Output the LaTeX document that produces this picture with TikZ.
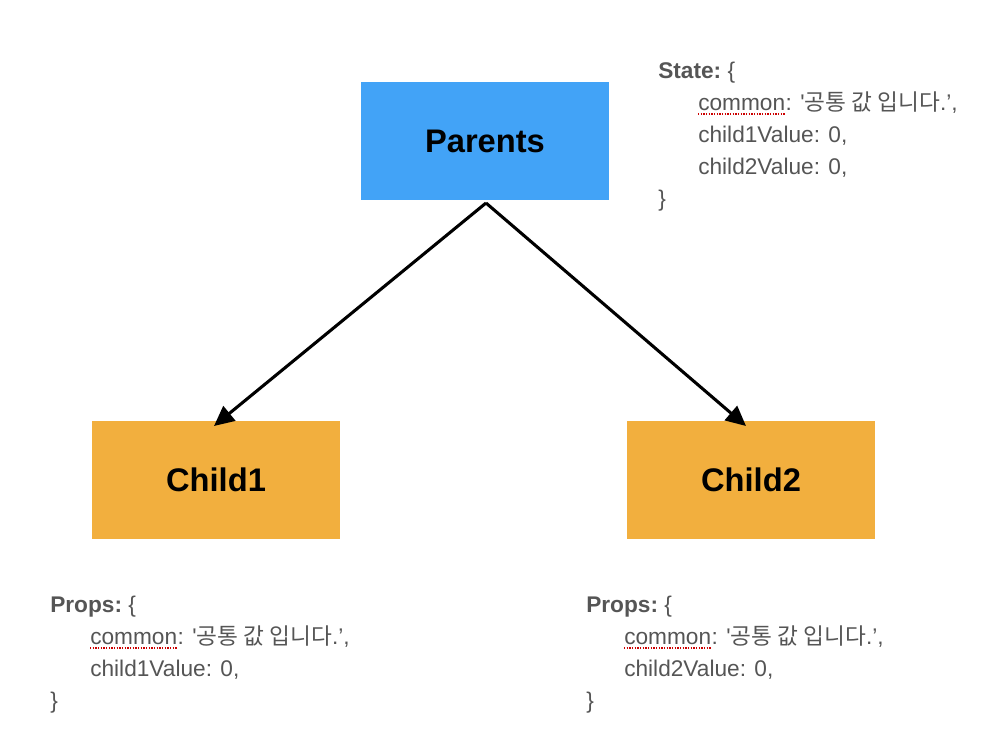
\documentclass[tikz,border=0pt]{standalone}
\usepackage{fontspec}
\newfontfamily\lib{Liberation Sans}
\newfontfamily\kr{Noto Sans CJK KR}
\usetikzlibrary{arrows.meta}
\definecolor{pblue}{HTML}{42A3F7}
\definecolor{corange}{HTML}{F2AF3E}
\definecolor{tgray}{HTML}{555555}
\begin{document}
\begin{tikzpicture}[x=0.75pt,y=-0.75pt,
  box/.style={minimum width=186pt,minimum height=88.5pt,inner sep=0pt,font=\lib\bfseries\fontsize{24.5}{28}\selectfont,text=black},
  code/.style={anchor=base west,inner sep=0pt,text=tgray,font=\lib\fontsize{17}{20}\selectfont},
  arr/.style={line width=2.3pt,black,-{Triangle[length=15pt,width=14pt]}},
  squig/.style={red!80!black,densely dotted,line width=1pt}]
\useasboundingbox (0,0) rectangle (1006,732);
% boxes
\node[box,fill=pblue] (par) at (485,141) {Parents};
\node[box,fill=corange] (c1) at (216,480) {Child1};
\node[box,fill=corange] (c2) at (751,480) {Child2};
\coordinate (top) at (486,203);
\coordinate (e1) at (214,426);
\coordinate (e2) at (746,426);
\draw[arr] (top) -- (e1);
\draw[arr] (top) -- (e2);
% State text
\node[code] (s1) at (658,78) {\bfseries State:\mdseries\ \{};
\node[code] (s2) at (698,110) {common};
\node[code] (s2b) at (s2.base east) {: '{\kr 공통 값 입니다}.’,};
\draw[squig] ([yshift=-3pt]s2.base west) -- ([yshift=-3pt]s2.base east);
\node[code] (s3) at (698,142) {child1Value: 0,};
\node[code] (s4) at (698,174) {child2Value: 0,};
\node[code] (s5) at (658,206) {\}};
% Props left
\node[code] (a1) at (50,612) {\bfseries Props:\mdseries\ \{};
\node[code] (a2) at (90,644) {common};
\node[code] (a2b) at (a2.base east) {: '{\kr 공통 값 입니다}.’,};
\draw[squig] ([yshift=-3pt]a2.base west) -- ([yshift=-3pt]a2.base east);
\node[code] (a3) at (90,676) {child1Value: 0,};
\node[code] (a4) at (50,708) {\}};
% Props right
\node[code] (b1) at (586,612) {\bfseries Props:\mdseries\ \{};
\node[code] (b2) at (624,644) {common};
\node[code] (b2b) at (b2.base east) {: '{\kr 공통 값 입니다}.’,};
\draw[squig] ([yshift=-3pt]b2.base west) -- ([yshift=-3pt]b2.base east);
\node[code] (b3) at (624,676) {child2Value: 0,};
\node[code] (b4) at (586,708) {\}};
\end{tikzpicture}
\end{document}
